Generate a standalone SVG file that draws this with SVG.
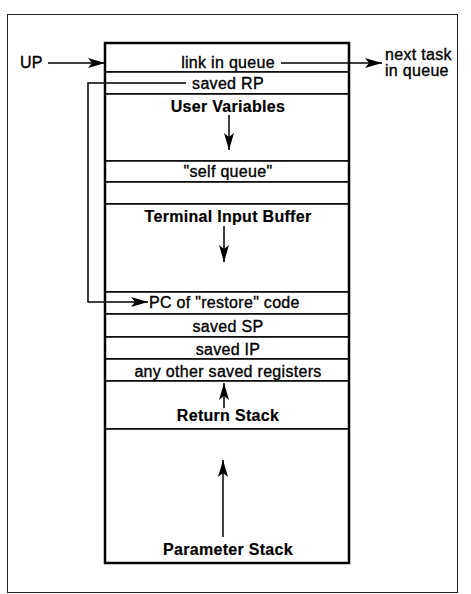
<svg xmlns="http://www.w3.org/2000/svg" width="471" height="594" viewBox="0 0 471 594">
<style>
.frame{fill:none;stroke:#222;stroke-width:1}
.cell{fill:#fff;stroke:#000;stroke-width:1.5}
.outer{fill:none;stroke:#000;stroke-width:2.5}
text{font-family:"Liberation Sans",Arial,Helvetica,sans-serif;font-size:16px;fill:#000;stroke:#000;stroke-width:0.35;letter-spacing:0.3px}
.c{text-anchor:middle}
.b{font-weight:bold;stroke-width:0.2}
.ln{fill:none;stroke:#000;stroke-width:1.5}
.ar{marker-end:url(#ah)}
</style>
<defs>
<marker id="ah" markerUnits="userSpaceOnUse" viewBox="0 0 17 10" refX="17" refY="5" markerWidth="17" markerHeight="10" orient="auto">
<path d="M0,0 L17,5 L0,10 L4,5 Z" fill="#000"/>
</marker>
</defs>
<rect width="471" height="594" fill="#fff"/>
<rect class="frame" x="7.5" y="14.5" width="450" height="578"/>
<g id="cell-link"><rect class="cell" x="105" y="43" width="244" height="29"/><text class="c" x="228" y="67.5">link in queue</text></g>
<g id="cell-savedRP"><rect class="cell" x="105" y="72" width="244" height="22"/><text class="c" x="228" y="88.5">saved RP</text></g>
<g id="cell-userVars"><rect class="cell" x="105" y="94" width="244" height="67"/><text class="c b" x="228" y="112">User Variables</text></g>
<g id="cell-selfQueue"><rect class="cell" x="105" y="161" width="244" height="21"/><text class="c" x="228" y="177">"self queue"</text></g>
<g id="cell-empty"><rect class="cell" x="105" y="182" width="244" height="22"/></g>
<g id="cell-tib"><rect class="cell" x="105" y="204" width="244" height="88"/><text class="c b" x="228" y="222">Terminal Input Buffer</text></g>
<g id="cell-pc"><rect class="cell" x="105" y="292" width="244" height="22"/><text x="149" y="308">PC of "restore" code</text></g>
<g id="cell-savedSP"><rect class="cell" x="105" y="314" width="244" height="23"/><text class="c" x="228" y="332">saved SP</text></g>
<g id="cell-savedIP"><rect class="cell" x="105" y="337" width="244" height="22"/><text class="c" x="228" y="354.5">saved IP</text></g>
<g id="cell-other"><rect class="cell" x="105" y="359" width="244" height="22"/><text class="c" x="228" y="376.5">any other saved registers</text></g>
<g id="cell-return"><rect class="cell" x="105" y="381" width="244" height="48"/><text class="c b" x="228" y="421">Return Stack</text></g>
<g id="cell-param"><rect class="cell" x="105" y="429" width="244" height="134"/><text class="c b" x="228" y="555">Parameter Stack</text></g>
<rect class="outer" x="105" y="43" width="244" height="520"/>
<g id="label-up"><text x="20" y="68">UP</text></g>
<g id="label-next"><text x="385" y="60">next task</text><text x="385" y="76">in queue</text></g>
<g id="connectors">
<path class="ln ar" d="M48,63 L105,63"/>
<path class="ln ar" d="M281,63 L382,63"/>
<path class="ln ar" d="M186,83 H88 V302 H148"/>
<path class="ln ar" d="M229,115 V150"/>
<path class="ln ar" d="M224,226 V262"/>
<path class="ln ar" d="M224,408 V383"/>
<path class="ln ar" d="M223,537 V460"/>
</g>
</svg>
